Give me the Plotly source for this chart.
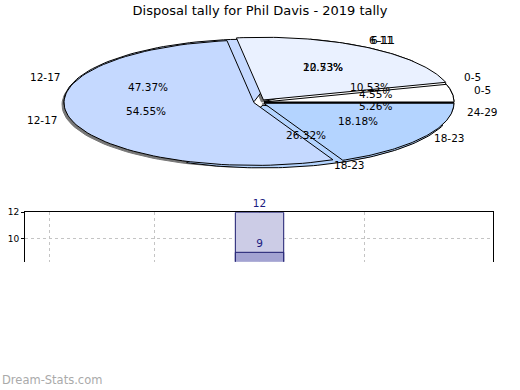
import math
import plotly.graph_objects as go

# ---------------- data ----------------
categories = ["0-5", "6-11", "12-17", "18-23", "24-29"]
tally_a = [2, 2, 9, 5, 1]      # first (under) pie, darker bars
tally_b = [1, 5, 12, 4, 0]     # second (top) pie, lighter bars
slice_colors = ["#ffffff", "#eaf1ff", "#c5d9ff", "#b4d4ff", "#9dc3ff"]
title_text = "Disposal tally for Phil Davis - 2019 tally"
watermark = "Dream-Stats.com"

# ---------------- layout constants ----------------
W, H = 520, 390
CX, CY = 259, 98.5         # pie centre (px)
RX, RY = 190, 63.5         # ellipse radii (px)
EXPLODE = 5                # px
LABEL_DY = -2.5            # px
FONT = "DejaVu Sans"

fig = go.Figure()


def wedge(a0, a1, dx=0.0, dy=0.0, n=80):
    xs, ys = [CX + dx], [CY + dy]
    for i in range(n + 1):
        a = math.radians(a0 + (a1 - a0) * i / n)
        xs.append(CX + dx + RX * math.cos(a))
        ys.append(CY + dy - RY * math.sin(a))
    xs.append(CX + dx)
    ys.append(CY + dy)
    return xs, ys


def explode_vec(mid):
    a = math.radians(mid)
    vx, vy = RX * math.cos(a), -RY * math.sin(a)
    L = math.hypot(vx, vy)
    return EXPLODE * vx / L, EXPLODE * vy / L


def slices(values):
    total = sum(values)
    out = []
    start = 0.0
    for i, v in enumerate(values):
        if v <= 0:
            continue
        span = 360.0 * v / total
        out.append((i, start, start + span, v / total * 100))
        start += span
    return out


sl_a = slices(tally_a)
sl_b = slices(tally_b)

# shadow
for (i, a0, a1, p) in sl_b:
    ex, ey = explode_vec((a0 + a1) / 2)
    xs, ys = wedge(a0, a1, ex - 2, ey + 2)
    fig.add_trace(go.Scatter(x=xs, y=ys, xaxis="x2", yaxis="y2", mode="lines",
                             fill="toself", fillcolor="#777777",
                             line=dict(color="#777777", width=1),
                             hoverinfo="skip", showlegend=False))

for sl in (sl_a, sl_b):
    for (i, a0, a1, p) in sl:
        ex, ey = explode_vec((a0 + a1) / 2)
        xs, ys = wedge(a0, a1, ex, ey)
        fig.add_trace(go.Scatter(x=xs, y=ys, xaxis="x2", yaxis="y2", mode="lines",
                                 fill="toself", fillcolor=slice_colors[i],
                                 line=dict(color="#000000", width=1),
                                 hoverinfo="skip", showlegend=False))

# labels
for sl in (sl_a, sl_b):
    for (i, a0, a1, p) in sl:
        a = math.radians((a0 + a1) / 2)
        fig.add_annotation(x=CX + 0.62 * RX * math.cos(a),
                           y=CY + LABEL_DY - 0.62 * RY * math.sin(a),
                           xref="x2", yref="y2", text=f"{p:.2f}%", showarrow=False,
                           font=dict(family=FONT, size=10.5, color="#000000"))
        fig.add_annotation(x=CX + 1.19 * RX * math.cos(a),
                           y=CY + LABEL_DY - 1.14 * RY * math.sin(a),
                           xref="x2", yref="y2", text=categories[i], showarrow=False,
                           font=dict(family=FONT, size=10.5, color="#000000"))

# ---------------- bars ----------------
YMIN, YMAX = 8.3, 12
fig.add_trace(go.Bar(x=categories, y=tally_b, width=0.46,
                     marker=dict(color="#ccccE6", line=dict(color="#1a1a6e", width=1)),
                     text=[str(v) if v >= YMIN else "" for v in tally_b],
                     textposition="outside", cliponaxis=False,
                     textfont=dict(family=FONT, size=10.5, color="#1a1a80"),
                     showlegend=False, hoverinfo="skip"))
fig.add_trace(go.Bar(x=categories, y=tally_a, width=0.46,
                     marker=dict(color="#a3a3d2", line=dict(color="#1a1a6e", width=1)),
                     text=[str(v) if v >= YMIN else "" for v in tally_a],
                     textposition="outside", cliponaxis=False,
                     textfont=dict(family=FONT, size=10.5, color="#1a1a80"),
                     showlegend=False, hoverinfo="skip"))

fig.update_layout(
    width=W, height=H, margin=dict(l=0, r=0, t=0, b=0),
    paper_bgcolor="#ffffff", plot_bgcolor="rgba(0,0,0,0)",
    barmode="overlay", showlegend=False,
    title=dict(text=title_text, x=0.5, xanchor="center", y=1 - 10 / H, yanchor="middle",
               font=dict(family=FONT, size=13, color="#000000")),
    xaxis=dict(domain=[25 / W, 493 / W], range=[-0.23, 4.22], side="top",
               tickvals=categories[:4],
               showline=True, linecolor="#000000", linewidth=1, mirror=False,
               showticklabels=False, ticks="", showgrid=True, gridcolor="#c4c4c4",
               griddash="dot", gridwidth=1, zeroline=False, fixedrange=True),
    yaxis=dict(domain=[130 / H, 180 / H], range=[YMIN, YMAX], tickvals=[10, 12],
               showline=True, linecolor="#000000", linewidth=1, mirror=True,
               ticks="outside", ticklen=3, tickcolor="#000000",
               tickfont=dict(family=FONT, size=9, color="#000000"),
               showgrid=True, gridcolor="#c4c4c4", griddash="dot", gridwidth=1,
               zeroline=False, fixedrange=True),
    xaxis2=dict(domain=[0, 1], range=[0, W], visible=False, fixedrange=True),
    yaxis2=dict(domain=[0, 1], range=[H, 0], visible=False, fixedrange=True),
)

fig.add_annotation(x=0, y=380, xref="x2", yref="y2", text=watermark, showarrow=False,
                   xanchor="left", yanchor="middle",
                   font=dict(family=FONT, size=11.5, color="#aaaaaa"))

fig.write_html("out.html", config={"displayModeBar": False},
               post_script="document.body.style.margin='0';document.body.style.overflow='hidden';")
